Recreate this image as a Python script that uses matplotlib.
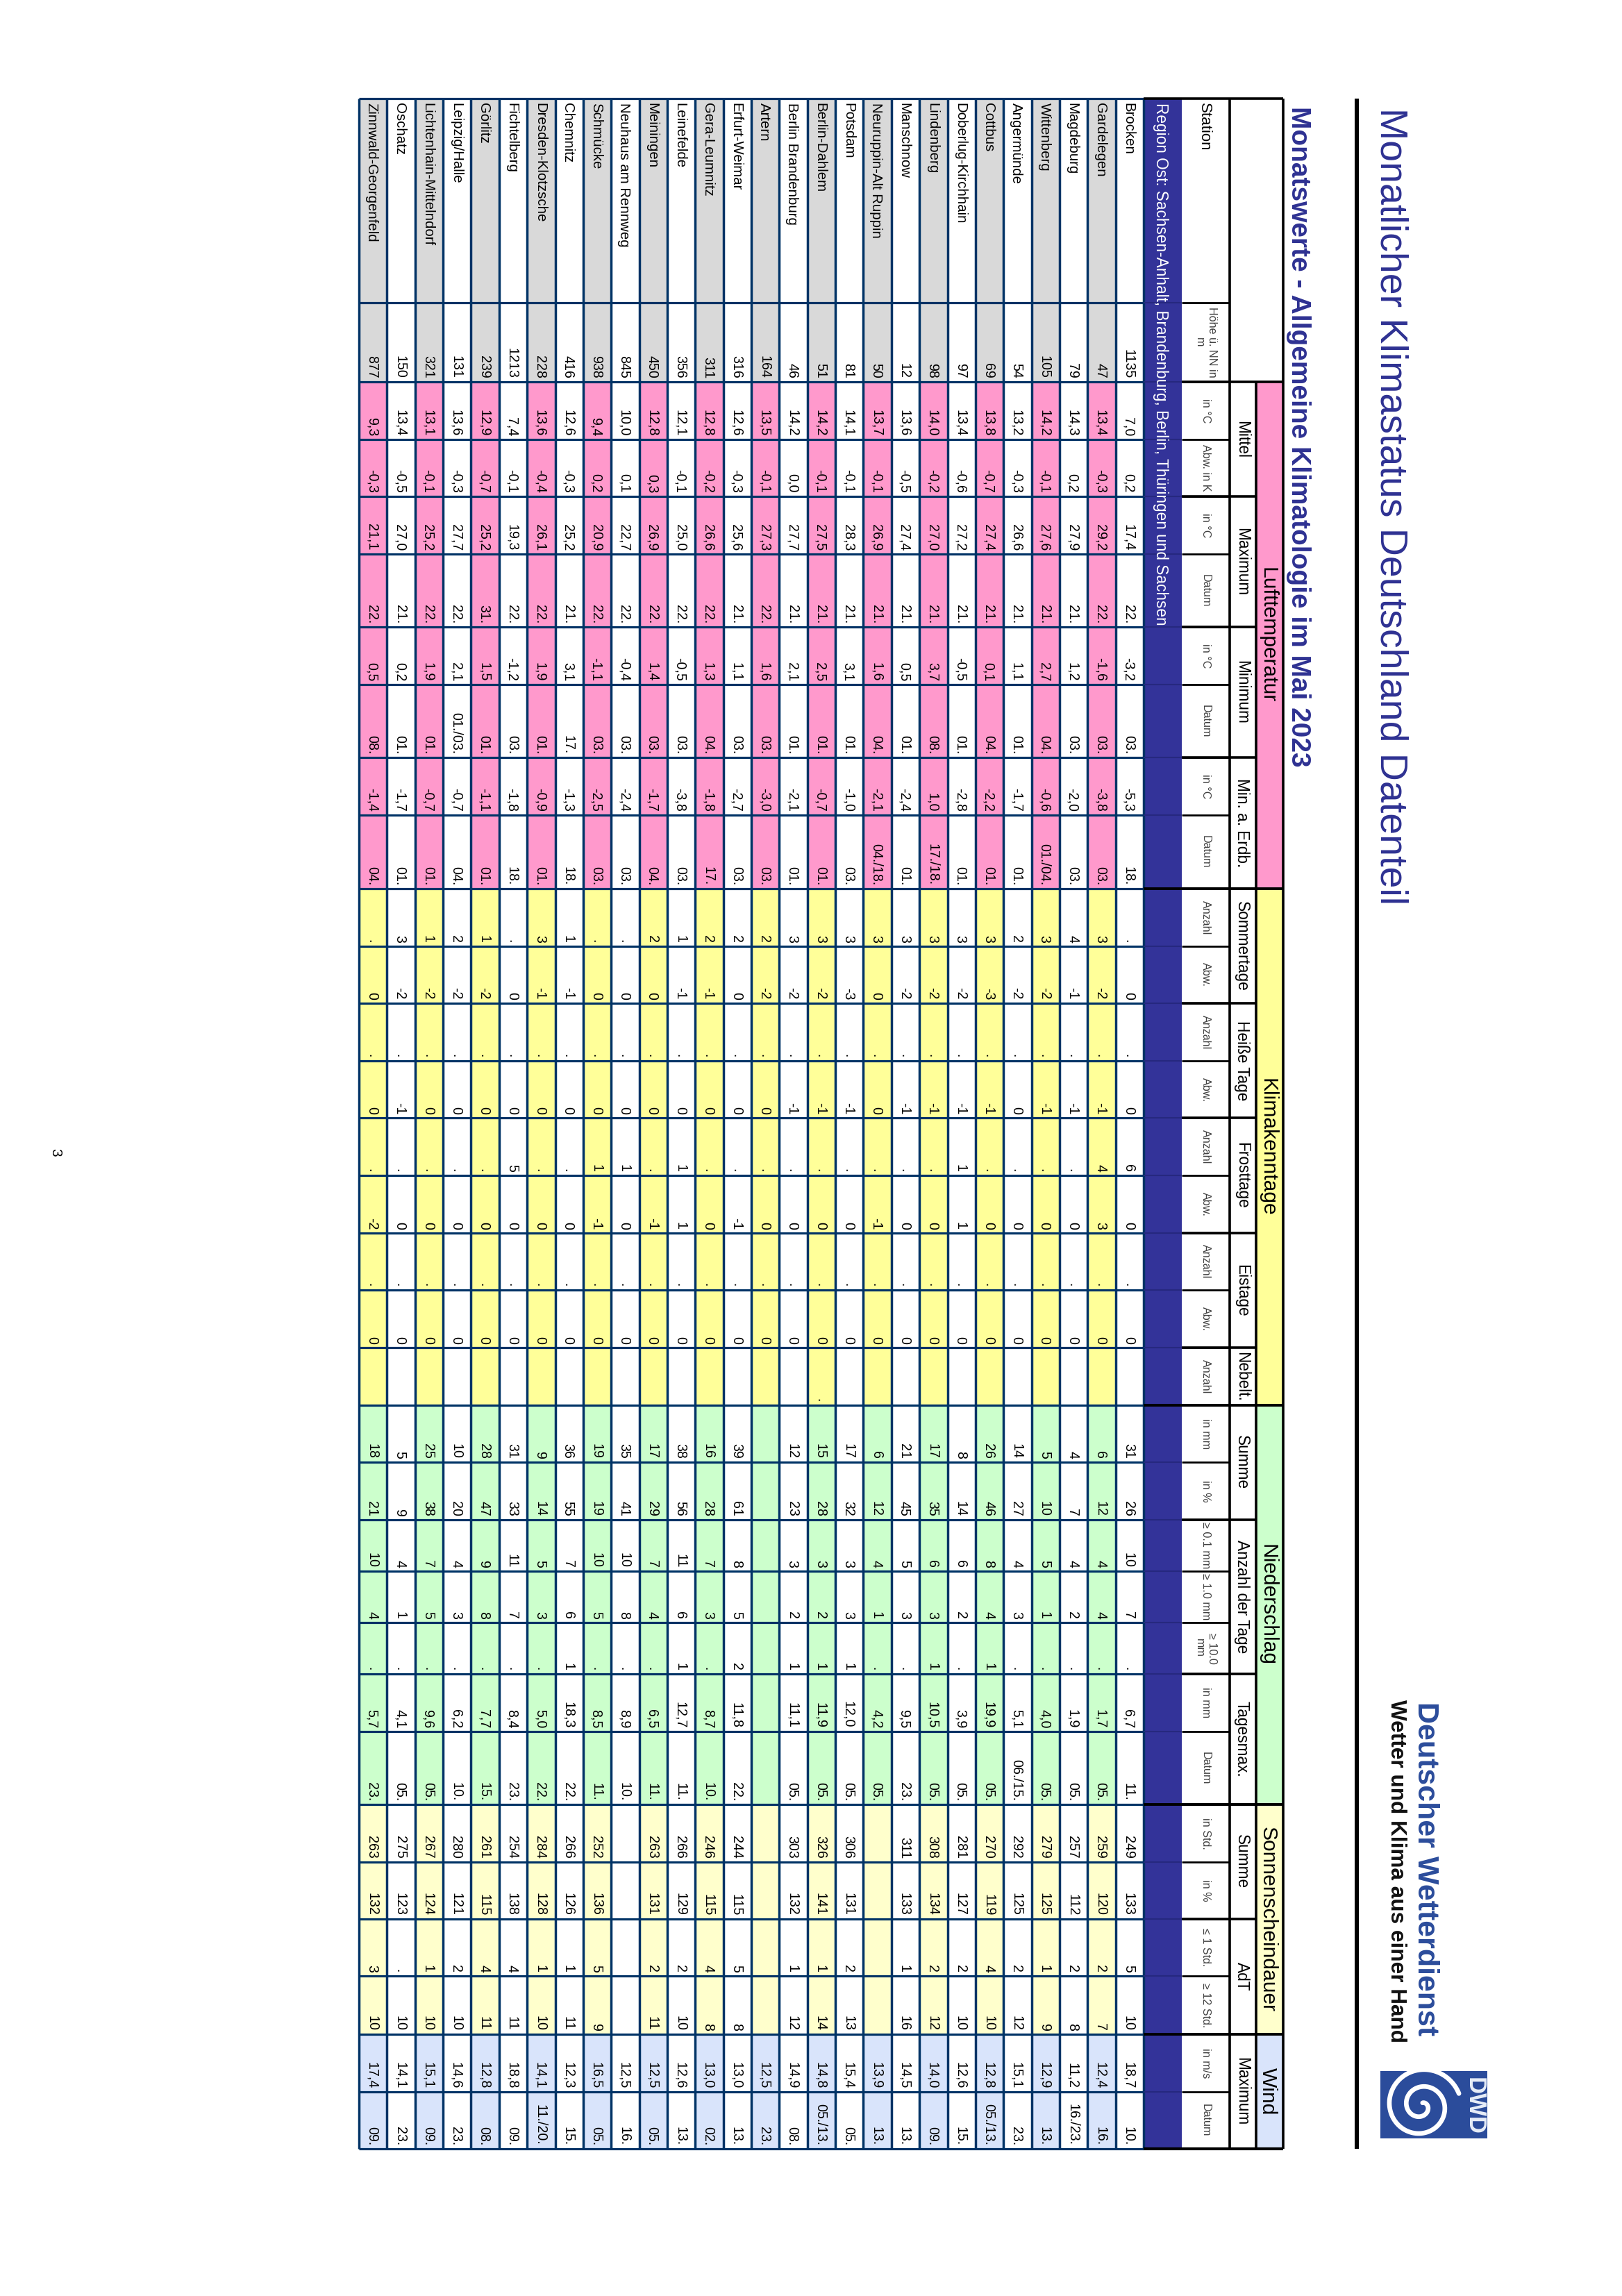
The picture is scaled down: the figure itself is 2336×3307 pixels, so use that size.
"""Monthly climate table (DWD, May 2023), page is rotated by 90 degrees."""

import matplotlib

matplotlib.use("Agg")
import matplotlib.pyplot as plt
import numpy as np
from matplotlib.patches import Rectangle

plt.rcParams["font.family"] = ["Liberation Sans", "DejaVu Sans"]

# ---- data, one list per column, rows from Brocken to Zinnwald
stations = ["Brocken", "Gardelegen", "Magdeburg", "Wittenberg", "Angermünde", "Cottbus", "Doberlug-Kirchhain",
            "Lindenberg", "Manschnow", "Neuruppin-Alt Ruppin", "Potsdam", "Berlin-Dahlem", "Berlin Brandenburg",
            "Artern", "Erfurt-Weimar", "Gera-Leumnitz", "Leinefelde", "Meiningen", "Neuhaus am Rennweg", "Schmücke",
            "Chemnitz", "Dresden-Klotzsche", "Fichtelberg", "Görlitz", "Leipzig/Halle", "Lichtenhain-Mittelndorf",
            "Oschatz", "Zinnwald-Georgenfeld"]
hoehe = "1135 47 79 105 54 69 97 98 12 50 81 51 46 164 316 311 356 450 845 938 416 228 1213 239 131 321 150 877".split()
t_mittel = "7,0 13,4 14,3 14,2 13,2 13,8 13,4 14,0 13,6 13,7 14,1 14,2 14,2 13,5 12,6 12,8 12,1 12,8 10,0 9,4 12,6 13,6 7,4 12,9 13,6 13,1 13,4 9,3".split()
t_abw = "0,2 -0,3 0,2 -0,1 -0,3 -0,7 -0,6 -0,2 -0,5 -0,1 -0,1 -0,1 0,0 -0,1 -0,3 -0,2 -0,1 0,3 0,1 0,2 -0,3 -0,4 -0,1 -0,7 -0,3 -0,1 -0,5 -0,3".split()
t_max = "17,4 29,2 27,9 27,6 26,6 27,4 27,2 27,0 27,4 26,9 28,3 27,5 27,7 27,3 25,6 26,6 25,0 26,9 22,7 20,9 25,2 26,1 19,3 25,2 27,7 25,2 27,0 21,1".split()
t_max_dat = "22. 22. 21. 21. 21. 21. 21. 21. 21. 21. 21. 21. 21. 22. 21. 22. 22. 22. 22. 22. 21. 22. 22. 31. 22. 22. 21. 22.".split()
t_min = "-3,2 -1,6 1,2 2,7 1,1 0,1 -0,5 3,7 0,5 1,6 3,1 2,5 2,1 1,6 1,1 1,3 -0,5 1,4 -0,4 -1,1 3,1 1,9 -1,2 1,5 2,1 1,9 0,2 0,5".split()
t_min_dat = "03. 03. 03. 04. 01. 04. 01. 08. 01. 04. 01. 01. 01. 03. 03. 04. 03. 03. 03. 03. 17. 01. 03. 01. 01./03. 01. 01. 08.".split()
t_erd = "-5,3 -3,8 -2,0 -0,6 -1,7 -2,2 -2,8 1,0 -2,4 -2,1 -1,0 -0,7 -2,1 -3,0 -2,7 -1,8 -3,8 -1,7 -2,4 -2,5 -1,3 -0,9 -1,8 -1,1 -0,7 -0,7 -1,7 -1,4".split()
t_erd_dat = "18. 03. 03. 01./04. 01. 01. 01. 17./18. 01. 04./18. 03. 01. 01. 03. 03. 17. 03. 04. 03. 03. 18. 01. 18. 01. 04. 01. 01. 04.".split()
sommer = ". 3 4 3 2 3 3 3 3 3 3 3 3 2 2 2 1 2 . . 1 3 . 1 2 1 3 .".split()
sommer_abw = "0 -2 -1 -2 -2 -3 -2 -2 -2 0 -3 -2 -2 -2 0 -1 -1 0 0 0 -1 -1 0 -2 -2 -2 -2 0".split()
heiss = ["."] * 28
heiss_abw = "0 -1 -1 -1 0 -1 -1 -1 -1 0 -1 -1 -1 0 0 0 0 0 0 0 0 0 0 0 0 0 -1 0".split()
frost = "6 4 . . . . 1 . . . . . . . . . 1 . 1 1 . . 5 . . . . .".split()
frost_abw = "0 3 0 0 0 0 1 0 0 -1 0 0 0 0 -1 0 1 -1 0 -1 0 0 0 0 0 0 0 -2".split()
eis = ["."] * 28
eis_abw = ["0"] * 28
nebel = ["", "", "", "", "", "", "", "", "", "", "", ".", "", "", "", "", "", "", "", "", "", "", "", "", "", "", "", ""]
rr_mm = ["31", "6", "4", "5", "14", "26", "8", "17", "21", "6", "17", "15", "12", "", "39", "16", "38", "17", "35", "19", "36", "9", "31", "28", "10", "25", "5", "18"]
rr_pct = ["26", "12", "7", "10", "27", "46", "14", "35", "45", "12", "32", "28", "23", "", "61", "28", "56", "29", "41", "19", "55", "14", "33", "47", "20", "38", "9", "21"]
rr_01 = ["10", "4", "4", "5", "4", "8", "6", "6", "5", "4", "3", "3", "3", "", "8", "7", "11", "7", "10", "10", "7", "5", "11", "9", "4", "7", "4", "10"]
rr_1 = ["7", "4", "2", "1", "3", "4", "2", "3", "3", "1", "3", "2", "2", "", "5", "3", "6", "4", "8", "5", "6", "3", "7", "8", "3", "5", "1", "4"]
rr_10 = [".", ".", ".", ".", ".", "1", ".", "1", ".", ".", "1", "1", "1", "", "2", ".", "1", ".", ".", ".", "1", ".", ".", ".", ".", ".", ".", "."]
rr_max = ["6,7", "1,7", "1,9", "4,0", "5,1", "19,9", "3,9", "10,5", "9,5", "4,2", "12,0", "11,9", "11,1", "", "11,8", "8,7", "12,7", "6,5", "8,9", "8,5", "18,3", "5,0", "8,4", "7,7", "6,2", "9,6", "4,1", "5,7"]
rr_max_dat = ["11.", "05.", "05.", "05.", "06./15.", "05.", "05.", "05.", "23.", "05.", "05.", "05.", "05.", "", "22.", "10.", "11.", "11.", "10.", "11.", "22.", "22.", "23.", "15.", "10.", "05.", "05.", "23."]
sonne = ["249", "259", "257", "279", "292", "270", "281", "308", "311", "", "306", "326", "303", "", "244", "246", "266", "263", "", "252", "266", "284", "254", "261", "280", "267", "275", "263"]
sonne_pct = ["133", "120", "112", "125", "125", "119", "127", "134", "133", "", "131", "141", "132", "", "115", "115", "129", "131", "", "136", "126", "128", "138", "115", "121", "124", "123", "132"]
sonne_1 = ["5", "2", "2", "1", "2", "4", "2", "2", "1", "", "2", "1", "1", "", "5", "4", "2", "2", "", "5", "1", "1", "4", "4", "2", "1", ".", "3"]
sonne_12 = ["10", "7", "8", "9", "12", "10", "10", "12", "16", "", "13", "14", "12", "", "8", "8", "10", "11", "", "9", "11", "10", "11", "11", "10", "10", "10", "10"]
wind = "18,7 12,4 11,2 12,9 15,1 12,8 12,6 14,0 14,5 13,9 15,4 14,8 14,9 12,5 13,0 13,0 12,6 12,5 12,5 16,5 12,3 14,1 18,8 12,8 14,6 15,1 14,1 17,4".split()
wind_dat = "10. 16. 16./23. 13. 23. 05./13. 15. 09. 13. 13. 05. 05./13. 08. 23. 13. 02. 13. 05. 16. 05. 15. 11./20. 09. 08. 23. 09. 23. 09.".split()

columns = [hoehe, t_mittel, t_abw, t_max, t_max_dat, t_min, t_min_dat, t_erd, t_erd_dat,
           sommer, sommer_abw, heiss, heiss_abw, frost, frost_abw, eis, eis_abw, nebel,
           rr_mm, rr_pct, rr_01, rr_1, rr_10, rr_max, rr_max_dat,
           sonne, sonne_pct, sonne_1, sonne_12, wind, wind_dat]

units = ["Höhe ü. NN in\nm", "in °C", "Abw. in K", "in °C", "Datum", "in °C", "Datum", "in °C", "Datum",
         "Anzahl", "Abw.", "Anzahl", "Abw.", "Anzahl", "Abw.", "Anzahl", "Abw.", "Anzahl",
         "in mm", "in %", "≥ 0.1 mm", "≥ 1.0 mm", "≥ 10.0\nmm", "in mm", "Datum",
         "in Std.", "in %", "≤ 1 Std.", "≥ 12 Std.", "in m/s", "Datum"]
# name, first column, last column (index into columns)
sub_headers = [("Mittel", 1, 2), ("Maximum", 3, 4), ("Minimum", 5, 6), ("Min. a. Erdb.", 7, 8),
               ("Sommertage", 9, 10), ("Heiße Tage", 11, 12), ("Frosttage", 13, 14), ("Eistage", 15, 16),
               ("Nebelt.", 17, 17), ("Summe", 18, 19), ("Anzahl der Tage", 20, 22), ("Tagesmax.", 23, 24),
               ("Summe", 25, 26), ("AdT", 27, 28), ("Maximum", 29, 30)]
PINK, YELLOW, GREEN, CREAM, BLUE = "#FF99CC", "#FFFF99", "#CCFFCC", "#FFFFCC", "#D9E4FB"
groups = [("Lufttemperatur", 1, 8, PINK), ("Klimakenntage", 9, 17, YELLOW), ("Niederschlag", 18, 24, GREEN),
          ("Sonnenscheindauer", 25, 28, CREAM), ("Wind", 29, 30, BLUE)]
region = "Region Ost: Sachsen-Anhalt, Brandenburg, Berlin, Thüringen und Sachsen"

# ---- layout in pixels of the page
Y_EDGES = [142, 436, 550, 633, 715, 798, 903, 986, 1091, 1174, 1280, 1363, 1445, 1528, 1610, 1693, 1776, 1858, 1941,
           2024, 2106, 2189, 2263, 2337, 2411, 2494, 2599, 2682, 2764, 2846, 2930, 3013, 3095]
X_LEFT, X_ROWS, X_BAND, X_UNITS, X_SUB, X_TOP = 517, 1647, 1702, 1771, 1809, 1848
ROW_W = (X_ROWS - X_LEFT) / len(stations)
GRID = "#003366"
NAVY = "#333399"
GREY = "#D9D9D9"
TITLE = "#2E3192"
DWD_BLUE = "#2B4C9B"

fig = plt.figure(figsize=(23.36, 33.07), dpi=100, facecolor="white")
ax = fig.add_axes([0, 0, 1, 1])
ax.set_xlim(0, 2336)
ax.set_ylim(3307, 0)
ax.axis("off")


def rect(x0, x1, y0, y1, color, z=1):
    return ax.add_patch(Rectangle((x0, y0), x1 - x0, y1 - y0, facecolor=color, edgecolor="none", zorder=z))


def vtext(xc, y, s, size, align="center", color="black", **kw):
    # rotated text, xc is the middle of the capitals
    base = xc - 0.358 * size * 100 / 72
    ax.text(base, y, s, fontsize=size, color=color, rotation=270, rotation_mode="anchor",
            ha=align, va="baseline", zorder=5, **kw)


def column_color(c):
    if c == 0:
        return GREY
    for _, first, last, color in groups:
        if first <= c <= last:
            return color


# cells
for r in range(len(stations)):
    x0 = X_LEFT + r * ROW_W
    xc = x0 + ROW_W / 2
    row = len(stations) - 1 - r  # last station sits at the left
    if row % 2 == 1:
        rect(x0, x0 + ROW_W, Y_EDGES[0], Y_EDGES[1], GREY)
    vtext(xc, Y_EDGES[0] + 6, stations[row], 14.7, align="left")
    for c, values in enumerate(columns):
        if row % 2 == 1:
            rect(x0, x0 + ROW_W, Y_EDGES[c + 1], Y_EDGES[c + 2], column_color(c))
        if values[row]:
            vtext(xc, Y_EDGES[c + 2] - 5, values[row], 14.1, align="right")

# region band
rect(X_ROWS, X_BAND, Y_EDGES[0], Y_EDGES[-1], NAVY)
vtext((X_ROWS + X_BAND) / 2 - 1, Y_EDGES[0] + 6, region, 16.3, align="left", color="white")

# table grid
for r in range(len(stations) + 1):
    x = X_LEFT + r * ROW_W
    ax.plot([x, x], [Y_EDGES[0], Y_EDGES[-1]], color=GRID, lw=2.5, zorder=3, solid_capstyle="butt")
for y in Y_EDGES:
    ax.plot([X_LEFT, X_ROWS], [y, y], color=GRID, lw=2.3, zorder=3, solid_capstyle="butt")
    ax.plot([X_ROWS, X_BAND], [y, y], color="#26287F", lw=1.5, zorder=3, solid_capstyle="butt")

# header texts
vtext((X_BAND + X_UNITS) / 2, Y_EDGES[0] + 6, "Station", 16, align="left")
for c, label in enumerate(units):
    y = (Y_EDGES[c + 1] + Y_EDGES[c + 2]) / 2
    ax.text((X_BAND + X_UNITS) / 2, y, label, fontsize=11.6, color="#404040", rotation=270,
            ha="center", va="center", multialignment="center", zorder=5)
for label, first, last in sub_headers:
    y = (Y_EDGES[first + 1] + Y_EDGES[last + 2]) / 2
    vtext((X_UNITS + X_SUB) / 2, y, label, 16.3)
for label, first, last, color in groups:
    y0, y1 = Y_EDGES[first + 1], Y_EDGES[last + 2]
    rect(X_SUB, X_TOP, y0, y1, color)
    vtext((X_SUB + X_TOP) / 2, (y0 + y1) / 2, label, 21.6)

# black header rules
HEAD = dict(color="black", zorder=4, solid_capstyle="butt")
ax.plot([X_ROWS, X_TOP], [Y_EDGES[0], Y_EDGES[0]], lw=2.6, **HEAD)
ax.plot([X_ROWS, X_TOP], [Y_EDGES[-1], Y_EDGES[-1]], lw=3.0, **HEAD)
ax.plot([X_TOP, X_TOP], [Y_EDGES[0], Y_EDGES[-1]], lw=2.6, **HEAD)
ax.plot([X_UNITS, X_UNITS], [Y_EDGES[0], Y_EDGES[-1]], lw=2.6, **HEAD)
ax.plot([X_SUB, X_SUB], [Y_EDGES[2], Y_EDGES[-1]], lw=2.6, **HEAD)
ax.plot([X_BAND, X_UNITS], [Y_EDGES[1], Y_EDGES[1]], lw=2.0, **HEAD)
ax.plot([X_BAND, X_TOP], [Y_EDGES[2], Y_EDGES[2]], lw=2.6, **HEAD)
for c in range(1, len(columns)):
    ax.plot([X_BAND, X_UNITS], [Y_EDGES[c + 1], Y_EDGES[c + 1]], lw=2.0, **HEAD)
for _, first, last in sub_headers:
    ax.plot([X_BAND, X_SUB], [Y_EDGES[last + 2], Y_EDGES[last + 2]], lw=2.6, **HEAD)
for _, first, last, _color in groups:
    ax.plot([X_ROWS, X_TOP], [Y_EDGES[last + 2], Y_EDGES[last + 2]], lw=2.8, **HEAD)

# page head
rect(1951, 1957, 142, 3095, "black")
ax.text(1989, 155, "Monatlicher Klimastatus Deutschland Datenteil", fontsize=40, color=TITLE, rotation=270,
        rotation_mode="anchor", ha="left", va="baseline")
ax.text(1860, 153, "Monatswerte - Allgemeine Klimatologie im Mai 2023", fontsize=28, color=TITLE, fontweight="bold",
        rotation=270, rotation_mode="anchor", ha="left", va="baseline")
ax.text(2042, 2451, "Deutscher Wetterdienst", fontsize=31, color=DWD_BLUE, fontweight="bold", rotation=270,
        rotation_mode="anchor", ha="left", va="baseline")
ax.text(2003, 2448, "Wetter und Klima aus einer Hand", fontsize=22.7, color="#111111", fontweight="bold", rotation=270,
        rotation_mode="anchor", ha="left", va="baseline")
ax.text(80, 1660, "3", fontsize=15, rotation=270, ha="center", va="center")

# DWD logo
logo = rect(1988, 2142, 2983, 3080, DWD_BLUE, z=2)
turn = np.linspace(0.4, 2.2 * 2 * np.pi, 400)
radius = 3 + 3.9 * turn
spiral, = ax.plot(2047 + radius * np.sin(turn), 3033 - radius * np.cos(turn), color="white", lw=4.8, zorder=3,
                  solid_capstyle="round")
spiral.set_clip_path(logo)
ax.text(2123, 3033, "DWD", fontsize=25, color="#E8EEF8", fontweight="bold", rotation=270, ha="center", va="center",
        zorder=4)

fig.savefig("out.png", dpi=100, facecolor="white")
